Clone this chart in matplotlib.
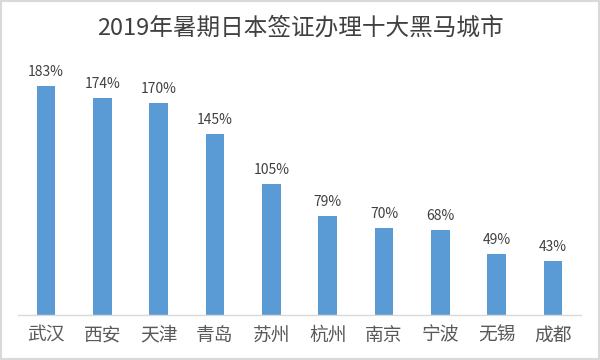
import matplotlib
matplotlib.use("Agg")
import matplotlib.pyplot as plt
from matplotlib.patches import Rectangle

plt.rcParams['font.family'] = ['Noto Sans CJK SC', 'DejaVu Sans']

cities = ["武汉", "西安", "天津", "青岛", "苏州", "杭州", "南京", "宁波", "无锡", "成都"]
growth = [183, 174, 170, 145, 105, 79, 70, 68, 49, 43]
title = "2019年暑期日本签证办理十大黑马城市"

fig = plt.figure(figsize=(6, 3.6), dpi=100)
ax = fig.add_axes([18/600, 1 - 315/360, 563/600, 250/360])

x = list(range(len(cities)))
bars = ax.bar(x, growth, width=0.33, color="#5B9BD5", zorder=2)
ax.set_xlim(-0.5, len(cities) - 0.5)
ax.set_ylim(0, 200)
for xi, v in zip(x, growth):
    ax.annotate(f"{v}%", (xi, v), xytext=(0, 5), textcoords="offset points",
                ha="center", va="bottom", fontsize=10, color="#404040")

ax.set_xticks(x)
ax.set_xticklabels(cities, fontsize=13.5, color="#595959")
ax.tick_params(axis="x", length=0, pad=7)
ax.set_yticks([])
for s in ["top", "right", "left"]:
    ax.spines[s].set_visible(False)
ax.spines["bottom"].set_color("#D9D9D9")
ax.spines["bottom"].set_linewidth(1)

fig.text(0.5, 1 - 29/360, title, ha="center", va="center", fontsize=17, color="#404040")
fig.patches.append(Rectangle((0.002, 0.003), 0.996, 0.994, transform=fig.transFigure,
                             fill=False, edgecolor="#D9D9D9", linewidth=1.5))

fig.savefig("out.png", dpi=100)
